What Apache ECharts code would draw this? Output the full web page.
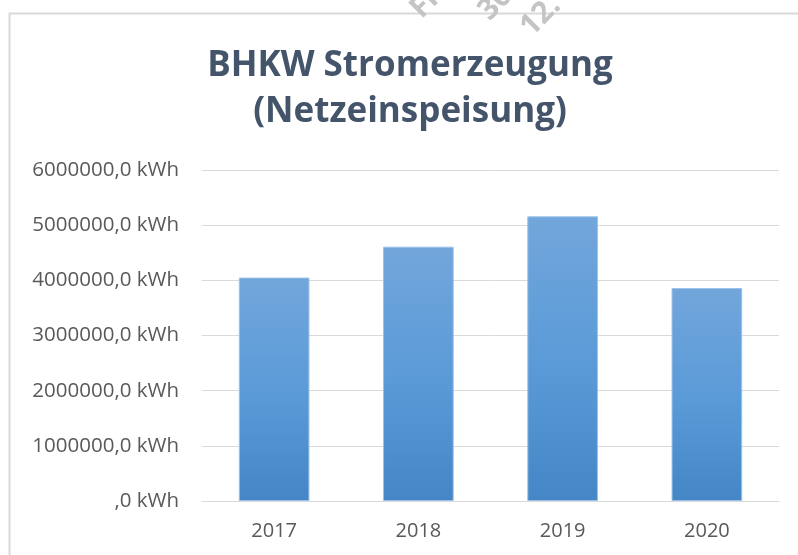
<!DOCTYPE html>
<html>
<head>
<meta charset="utf-8">
<script src="https://cdn.jsdelivr.net/npm/echarts@6/dist/echarts.min.js"></script>
<style>html,body{margin:0;padding:0;background:#fff}#c{width:798px;height:555px}</style>
</head>
<body>
<div id="c"></div>
<script>
const categories = ['2017', '2018', '2019', '2020'];
const values = [4050000, 4610000, 5160000, 3860000];
const yTicks = [0, 1000000, 2000000, 3000000, 4000000, 5000000, 6000000];
const titleLines = ['BHKW Stromerzeugung', '(Netzeinspeisung)'];
const watermark = ['Fr', '30', '12.'];

const chart = echarts.init(document.getElementById('c'));
const font = '"Open Sans", "Liberation Sans", sans-serif';
const rot = 45 * Math.PI / 180;
chart.setOption({
  animation: false,
  backgroundColor: '#fff',
  title: {
    text: titleLines.join('\n'),
    left: 405,
    textAlign: 'center',
    top: 38,
    textStyle: { fontFamily: font, fontWeight: 'bold', fontSize: 35, color: '#44546A', lineHeight: 46 }
  },
  graphic: [
    { type: 'rect', shape: { x: 9.5, y: 13.5, width: 900, height: 700 }, style: { fill: 'none', stroke: '#D9D9D9', lineWidth: 2 }, silent: true },
    { type: 'text', x: 426, y: 24, rotation: rot, style: { text: watermark[0], fill: '#C4C4C4', font: 'bold 30px ' + font, verticalAlign: 'bottom' } },
    { type: 'text', x: 494, y: 26, rotation: rot, style: { text: watermark[1], fill: '#C4C4C4', font: 'bold 30px ' + font, verticalAlign: 'bottom' } },
    { type: 'text', x: 536, y: 42, rotation: rot, style: { text: watermark[2], fill: '#C4C4C4', font: 'bold 30px ' + font, verticalAlign: 'bottom' } }
  ],
  grid: { left: 202, right: 19, top: 170, bottom: 54, containLabel: false },
  xAxis: {
    type: 'category',
    data: categories,
    axisLine: { show: true, lineStyle: { color: '#D9D9D9', width: 1 } },
    axisTick: { show: false },
    axisLabel: { color: '#595959', fontFamily: font, fontSize: 20, margin: 20 }
  },
  yAxis: {
    type: 'value',
    min: yTicks[0],
    max: yTicks[yTicks.length - 1],
    interval: yTicks[1] - yTicks[0],
    axisLine: { show: false },
    axisTick: { show: false },
    splitLine: { lineStyle: { color: '#D9D9D9', width: 1 } },
    axisLabel: {
      color: '#595959', fontFamily: font, fontSize: 20.5, margin: 23,
      formatter: v => (v === 0 ? '' : String(v)) + ',0 kWh'
    }
  },
  series: [{
    type: 'bar',
    data: values,
    barWidth: '49%',
    itemStyle: {
      color: new echarts.graphic.LinearGradient(0, 0, 0, 1, [
        { offset: 0, color: '#72A6DB' },
        { offset: 0.5, color: '#5B9BD8' },
        { offset: 1, color: '#4486C6' }
      ]),
      borderColor: '#9CC2E8',
      borderWidth: 1
    }
  }]
});
</script>
</body>
</html>
